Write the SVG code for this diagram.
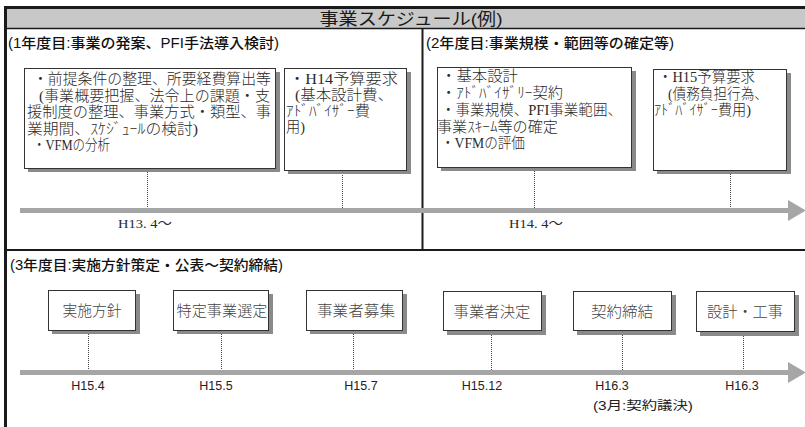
<svg xmlns="http://www.w3.org/2000/svg" width="805" height="427" viewBox="0 0 805 427">
<defs>
<style>
.bg{fill:#ffffff}
.band{fill:#c8c8c8}
.rule{stroke:#1a1a1a;fill:none}
.box{fill:#ffffff;stroke:#333333;stroke-width:1}
.shadow{fill:#8a8a8a}
.dot{stroke:#444444;stroke-width:1;stroke-dasharray:1 1;fill:none}
.bar{fill:#a6a6a6}
.hdr{font-family:"Liberation Sans","Noto Sans CJK JP",sans-serif;font-size:14px;font-weight:500;fill:#111111}
.title{font-family:"Liberation Sans","Noto Sans CJK JP",sans-serif;font-size:17px;fill:#1a1a1a}
.mt{font-family:"Liberation Serif","Noto Sans CJK JP",serif;font-size:14.5px;font-weight:300;fill:#2a2a2a}
.bt{font-family:"Liberation Serif","Noto Sans CJK JP",serif;font-size:15px;font-weight:300;fill:#444444}
.dt{font-family:"Liberation Serif","Noto Sans CJK JP",serif;font-size:13.5px;fill:#2a2a2a}
.lb{font-family:"Liberation Sans","Noto Sans CJK JP",sans-serif;font-size:12.5px;fill:#222222}
</style>
</defs>
<rect class="bg" x="0" y="0" width="805" height="427"/>

<g id="frame">
<rect class="band" x="5" y="9" width="800" height="19"/>
<line class="rule" x1="4" y1="7.5" x2="805" y2="7.5" stroke-width="3"/>
<line class="rule" x1="5" y1="28.5" x2="805" y2="28.5" stroke-width="1.5"/>
<line class="rule" x1="5.5" y1="6" x2="5.5" y2="427" stroke-width="3"/>
<line class="rule" x1="422.5" y1="28" x2="422.5" y2="250" stroke-width="2"/>
<line class="rule" x1="5" y1="250" x2="805" y2="250" stroke-width="2"/>
<text class="title" x="411" y="25" text-anchor="middle" textLength="183" lengthAdjust="spacingAndGlyphs">事業スケジュール(例)</text>
</g>

<g id="headers">
<text class="hdr" x="8" y="48" textLength="271" lengthAdjust="spacingAndGlyphs">(1年度目:事業の発案、PFI手法導入検討)</text>
<text class="hdr" x="426" y="48" textLength="248" lengthAdjust="spacingAndGlyphs">(2年度目:事業規模・範囲等の確定等)</text>
<text class="hdr" x="10" y="270" textLength="273" lengthAdjust="spacingAndGlyphs">(3年度目:実施方針策定・公表～契約締結)</text>
</g>

<g id="connectors">
<line class="dot" x1="147.5" y1="172" x2="147.5" y2="208"/>
<line class="dot" x1="342.5" y1="175" x2="342.5" y2="208"/>
<line class="dot" x1="534.5" y1="171" x2="534.5" y2="208"/>
<line class="dot" x1="730.5" y1="174" x2="730.5" y2="208"/>
<line class="dot" x1="88.5" y1="334" x2="88.5" y2="370"/>
<line class="dot" x1="221.5" y1="334" x2="221.5" y2="370"/>
<line class="dot" x1="353.5" y1="334" x2="353.5" y2="370"/>
<line class="dot" x1="491.5" y1="335" x2="491.5" y2="370"/>
<line class="dot" x1="622.5" y1="335" x2="622.5" y2="370"/>
<line class="dot" x1="743.5" y1="336" x2="743.5" y2="370"/>
</g>

<g id="timeline1">
<rect class="bar" x="20" y="208" width="770" height="5"/>
<polygon class="bar" points="788,200 806,210.5 788,221"/>
<text class="dt" x="118" y="228" textLength="54" lengthAdjust="spacingAndGlyphs">H13. 4～</text>
<text class="dt" x="509" y="228" textLength="54" lengthAdjust="spacingAndGlyphs">H14. 4～</text>
</g>

<g id="timeline3">
<rect class="bar" x="20" y="370" width="770" height="5"/>
<polygon class="bar" points="788,362 806,372.5 788,383"/>
</g>

<g id="node-year1-tasks">
<rect class="shadow" x="28" y="72" width="252" height="100"/>
<rect class="box" x="24.5" y="68.5" width="251" height="100"/>
<text class="mt" x="33" y="84" textLength="238" lengthAdjust="spacingAndGlyphs">・前提条件の整理、所要経費算出等</text>
<text class="mt" x="39" y="100.5" textLength="231" lengthAdjust="spacingAndGlyphs">(事業概要把握、法令上の課題・支</text>
<text class="mt" x="27" y="117" textLength="244" lengthAdjust="spacingAndGlyphs">援制度の整理、事業方式・類型、事</text>
<text class="mt" x="27" y="133.5" textLength="171" lengthAdjust="spacingAndGlyphs">業期間、ｽｹｼﾞｭｰﾙの検討)</text>
<text class="mt" x="33" y="149.5" textLength="77" lengthAdjust="spacingAndGlyphs">・VFMの分析</text>
</g>

<g id="node-h14-budget">
<rect class="shadow" x="288" y="72" width="123" height="102"/>
<rect class="box" x="284.5" y="68.5" width="122" height="102"/>
<text class="mt" x="289" y="84" textLength="109" lengthAdjust="spacingAndGlyphs">・H14予算要求</text>
<text class="mt" x="295" y="100" textLength="98" lengthAdjust="spacingAndGlyphs">(基本設計費、</text>
<text class="mt" x="286" y="116" textLength="84" lengthAdjust="spacingAndGlyphs">ｱﾄﾞﾊﾞｲｻﾞｰ費</text>
<text class="mt" x="286" y="132" textLength="19" lengthAdjust="spacingAndGlyphs">用)</text>
</g>

<g id="node-year2-tasks">
<rect class="shadow" x="441" y="71" width="195" height="100"/>
<rect class="box" x="437.5" y="67.5" width="194" height="100"/>
<text class="mt" x="441" y="81" textLength="77" lengthAdjust="spacingAndGlyphs">・基本設計</text>
<text class="mt" x="441" y="98" textLength="122" lengthAdjust="spacingAndGlyphs">・ｱﾄﾞﾊﾞｲｻﾞﾘｰ契約</text>
<text class="mt" x="441" y="115" textLength="181" lengthAdjust="spacingAndGlyphs">・事業規模、PFI事業範囲、</text>
<text class="mt" x="437" y="131.5" textLength="121" lengthAdjust="spacingAndGlyphs">事業ｽｷｰﾑ等の確定</text>
<text class="mt" x="441" y="148" textLength="84" lengthAdjust="spacingAndGlyphs">・VFMの評価</text>
</g>

<g id="node-h15-budget">
<rect class="shadow" x="657" y="73" width="134" height="101"/>
<rect class="box" x="653.5" y="69.5" width="133" height="101"/>
<text class="mt" x="658" y="82" textLength="97" lengthAdjust="spacingAndGlyphs">・H15予算要求</text>
<text class="mt" x="668" y="98.5" textLength="100" lengthAdjust="spacingAndGlyphs">(債務負担行為、</text>
<text class="mt" x="654" y="115" textLength="97" lengthAdjust="spacingAndGlyphs">ｱﾄﾞﾊﾞｲｻﾞｰ費用)</text>
</g>

<g id="node-jisshi">
<rect class="shadow" x="52" y="294" width="88" height="40"/>
<rect class="box" x="48.5" y="290.5" width="87" height="40"/>
<text class="bt" x="92" y="316" text-anchor="middle" textLength="59" lengthAdjust="spacingAndGlyphs">実施方針</text>
</g>
<g id="node-tokutei">
<rect class="shadow" x="177" y="294" width="96" height="40"/>
<rect class="box" x="173.5" y="290.5" width="95" height="40"/>
<text class="bt" x="222" y="316" text-anchor="middle" textLength="91" lengthAdjust="spacingAndGlyphs">特定事業選定</text>
</g>
<g id="node-boshu">
<rect class="shadow" x="310" y="294" width="97" height="40"/>
<rect class="box" x="306.5" y="290.5" width="96" height="40"/>
<text class="bt" x="356" y="316" text-anchor="middle" textLength="78" lengthAdjust="spacingAndGlyphs">事業者募集</text>
</g>
<g id="node-kettei">
<rect class="shadow" x="447" y="295" width="99" height="40"/>
<rect class="box" x="443.5" y="291.5" width="98" height="39"/>
<text class="bt" x="492" y="316.5" text-anchor="middle" textLength="77" lengthAdjust="spacingAndGlyphs">事業者決定</text>
</g>
<g id="node-teiketsu">
<rect class="shadow" x="577" y="295" width="99" height="40"/>
<rect class="box" x="573.5" y="291.5" width="98" height="39"/>
<text class="bt" x="622" y="316.5" text-anchor="middle" textLength="62" lengthAdjust="spacingAndGlyphs">契約締結</text>
</g>
<g id="node-sekkei">
<rect class="shadow" x="700" y="295" width="99" height="41"/>
<rect class="box" x="696.5" y="291.5" width="98" height="40"/>
<text class="bt" x="745" y="316.5" text-anchor="middle" textLength="76" lengthAdjust="spacingAndGlyphs">設計・工事</text>
</g>

<g id="dates3">
<text class="lb" x="88" y="390" text-anchor="middle">H15.4</text>
<text class="lb" x="216" y="390" text-anchor="middle">H15.5</text>
<text class="lb" x="361" y="390" text-anchor="middle">H15.7</text>
<text class="lb" x="482" y="390" text-anchor="middle">H15.12</text>
<text class="lb" x="612" y="390" text-anchor="middle">H16.3</text>
<text class="lb" x="742" y="390" text-anchor="middle">H16.3</text>
<text class="lb" x="643" y="410" text-anchor="middle" textLength="100" lengthAdjust="spacingAndGlyphs">(3月:契約議決)</text>
</g>
</svg>
